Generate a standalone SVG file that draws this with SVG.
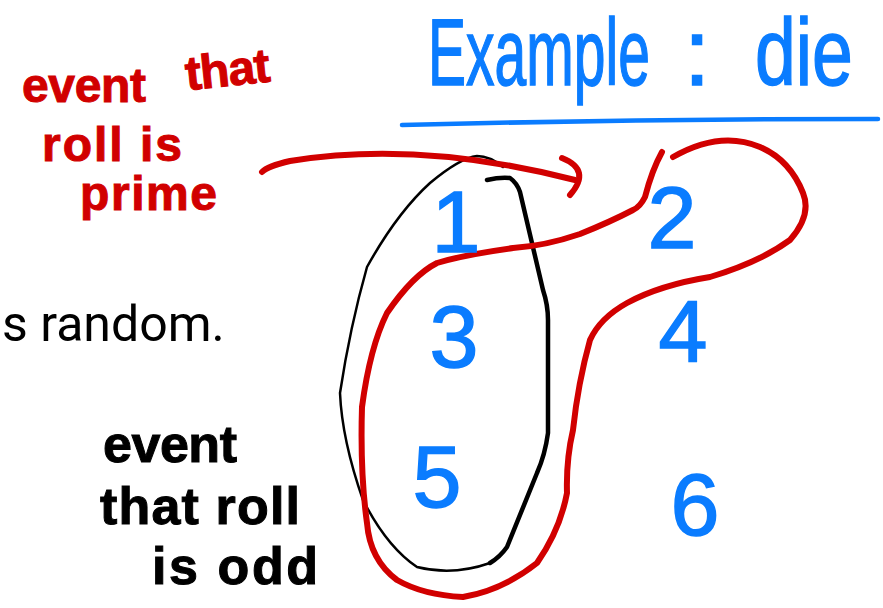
<svg xmlns="http://www.w3.org/2000/svg" width="883" height="608" viewBox="0 0 883 608">
<style>
.blue{fill:#0a7cff;stroke:#0a7cff;stroke-width:1.5;font-family:"Liberation Sans",Arial,sans-serif}
.red{fill:#d10000;stroke:#d10000;stroke-width:1;font-family:"Liberation Sans",Arial,sans-serif;font-weight:bold;font-size:48px}
.blk{fill:#000;stroke:#000;stroke-width:1;font-family:"Liberation Sans",Arial,sans-serif;font-weight:bold;font-size:52px}
.digit{font-size:88px;text-anchor:middle}
.rline{fill:none;stroke:#d10000;stroke-width:6;stroke-linecap:round;stroke-linejoin:round}
.kline{fill:none;stroke:#000;stroke-linecap:round;stroke-linejoin:round}
</style>
<rect width="883" height="608" fill="#fff"/>
<g id="title">
<text class="blue" font-size="94" transform="translate(428 85) scale(0.607 1)">Example</text>
<text class="blue" font-size="94" transform="translate(684 85)">:</text>
<text class="blue" font-size="94" transform="translate(755 85) scale(0.78 1)">die</text>
<path d="M402 125 Q640 119 878 119" fill="none" stroke="#0a7cff" stroke-width="4.5" stroke-linecap="round"/>
</g>
<g id="random-text">
<text x="2" y="341" font-family="Roboto,'Liberation Sans',sans-serif" font-size="50" fill="#000">s random.</text>
</g>
<g id="odd-event">
<path class="kline" stroke-width="2.5" d="M503 167 Q490 156 477 156 Q460 158 430 183 Q397 213 367 267 Q350 327 340 393 Q342 440 363 500 Q387 547 417 567 Q453 576 490 563"/>
<path class="kline" stroke-width="4.5" d="M487 180 Q500 177 510 178 Q517 183 520 192 L543 290 Q548 305 548 320 L548 433 Q545 455 537 473 Q520 515 507 547 Q500 557 490 563"/>
</g>
<g id="prime-event">
<path class="rline" d="M662 152 Q652 170 645 197 Q640 207 633 210 Q610 222 580 234 Q545 246 513 248 Q463 255 437 263 Q413 275 387 313 Q370 347 362 407 Q360 473 367 523 Q370 560 397 580 Q423 595 463 597 Q503 590 537 563 Q560 530 567 493 Q566 460 573 430 Q578 383 590 340 Q600 318 627 303 Q660 285 710 277 Q760 262 790 240 Q812 215 803 193 Q790 160 760 147 Q720 130 673 157"/>
</g>
<g id="digits">
<text class="blue digit" x="456" y="252">1</text>
<text class="blue digit" x="672" y="248">2</text>
<text class="blue digit" x="454" y="367">3</text>
<text class="blue digit" x="683" y="362">4</text>
<text class="blue digit" x="437" y="507">5</text>
<text class="blue digit" x="695" y="535">6</text>
</g>
<g id="prime-label">
<text class="red" x="22" y="102" textLength="124">event</text>
<text class="red" x="185" y="86" textLength="85" transform="rotate(-6 227 70)">that</text>
<text class="red" x="42" y="161" textLength="140">roll is</text>
<text class="red" x="80" y="210" textLength="137">prime</text>
</g>
<g id="odd-label">
<text class="blk" x="103" y="462" textLength="134">event</text>
<text class="blk" x="100" y="524" textLength="200">that roll</text>
<text class="blk" x="152" y="584" textLength="166">is odd</text>
</g>
<g id="connectors">
<path class="rline" d="M262 172 Q268 166 290 161 Q420 140 575 180"/>
<path class="rline" d="M562 158 Q592 170 570 195"/>
</g>
</svg>
